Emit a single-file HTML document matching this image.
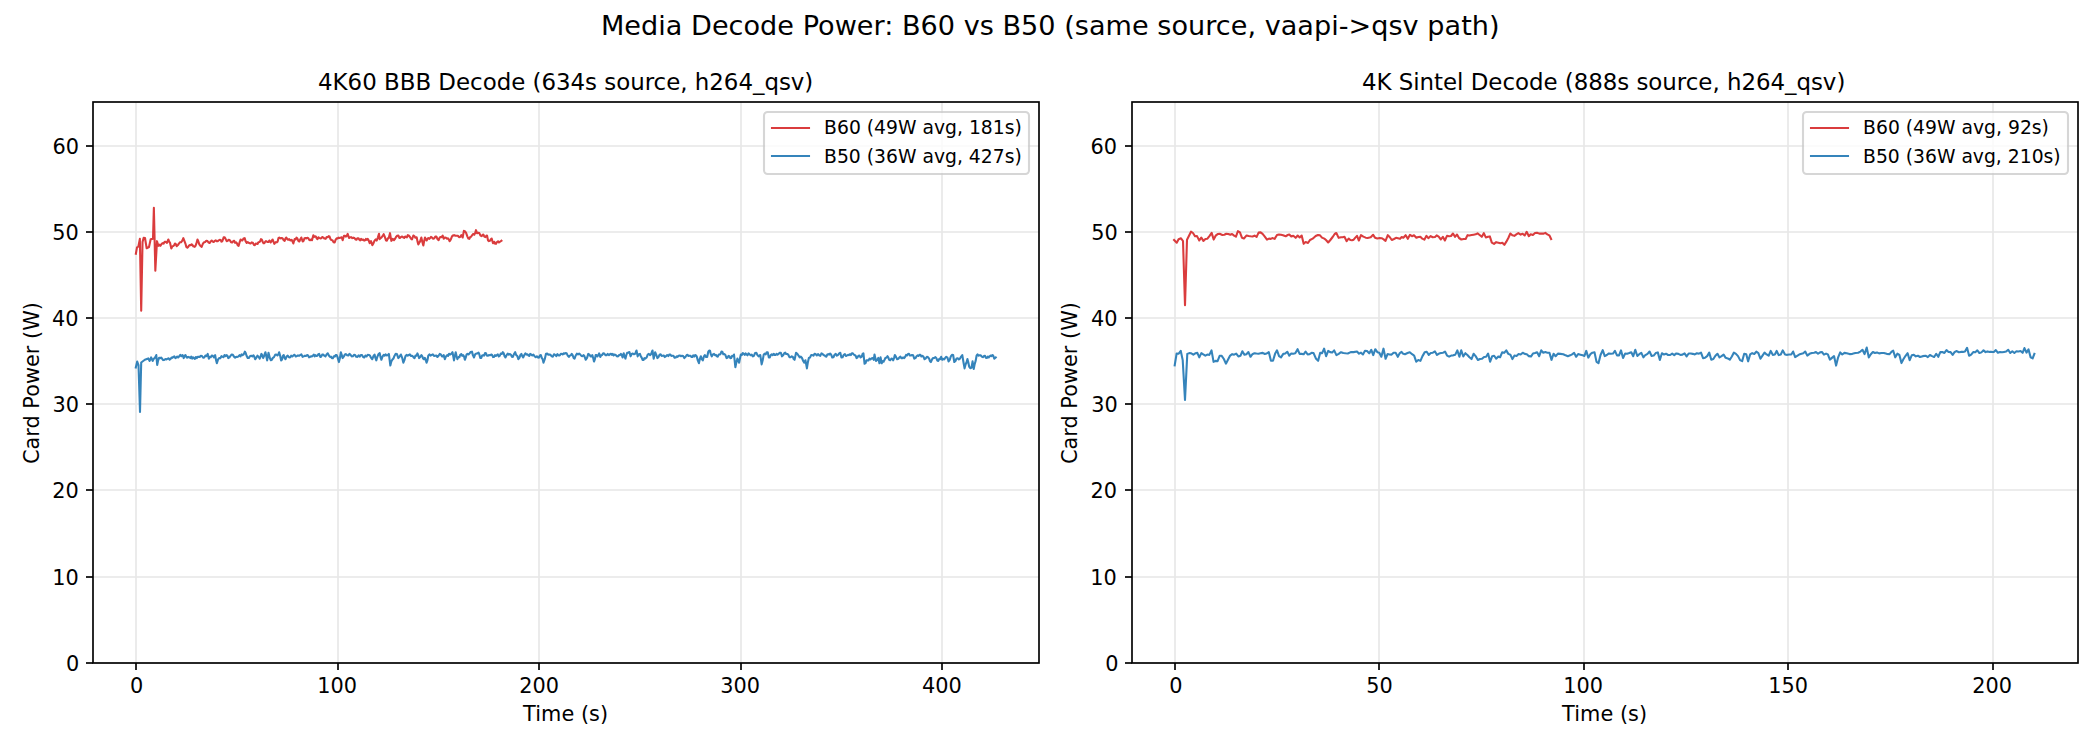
<!DOCTYPE html>
<html lang="en">
<head>
<meta charset="utf-8">
<title>Media Decode Power: B60 vs B50</title>
<style>
html,body{margin:0;padding:0;background:#fff;}
body{width:2100px;height:750px;overflow:hidden;}
svg{display:block;}
text{white-space:pre;}
</style>
</head>
<body>
<svg width="2100" height="750" viewBox="0 0 2100 750">
<rect width="2100" height="750" fill="#ffffff"/>
<g id="axes1">
<path d="M136 663V102M338 663V102M539 663V102M741 663V102M942 663V102M93 663H1039M93 577H1039M93 490H1039M93 404H1039M93 318H1039M93 232H1039M93 146H1039" fill="none" stroke="#b0b0b0" stroke-opacity="0.3" stroke-width="1.667"/>
<g fill="#000">
<rect x="135.167" y="663" width="1.667" height="7"/>
<rect x="337.167" y="663" width="1.667" height="7"/>
<rect x="538.167" y="663" width="1.667" height="7"/>
<rect x="740.167" y="663" width="1.667" height="7"/>
<rect x="941.167" y="663" width="1.667" height="7"/>
<rect x="86" y="662.167" width="7" height="1.667"/>
<rect x="86" y="576.167" width="7" height="1.667"/>
<rect x="86" y="489.167" width="7" height="1.667"/>
<rect x="86" y="403.167" width="7" height="1.667"/>
<rect x="86" y="317.167" width="7" height="1.667"/>
<rect x="86" y="231.167" width="7" height="1.667"/>
<rect x="86" y="145.167" width="7" height="1.667"/>
</g>
<clipPath id="clip1"><rect x="93.3" y="102.4" width="946" height="560.5"/></clipPath>
<polyline clip-path="url(#clip1)" points="135.867,253.667 137,247.333 138.333,246.667 139.867,238.833 141.2,310.7 142.533,242 143.667,237.75 145,238 146.667,248.25 149,247 150.667,239.333 153,238.667 153.867,207.7 155.333,270.7 157,241.167 158.333,245.833 159.333,244.703 160.333,245.827 161.333,244.333 162.444,243.174 163.556,243.659 164.667,241.833 165.833,241.868 167,242.833 168.333,239.5 169.167,241.641 170,242.667 171.333,248.5 172.333,246.358 173.333,246 174.167,245.296 175,243.5 175.833,244.171 176.667,246.167 177.667,245.313 178.667,244 179.833,242.336 181,242.333 182.167,240.902 183.333,238.167 184.667,241.667 185.5,243.812 186.333,246.917 187.333,247.651 188.333,246.667 189.167,245.375 190,245 190.833,245.207 191.667,244.25 192.5,244.974 193.333,246.333 194.667,246.833 195.5,245.791 196.333,243.667 197.467,239.5 198.4,241.541 199.333,244.333 200.5,246.007 201.667,246.833 202.833,243.755 204,242.333 205.167,242.022 206.333,240.833 207.5,241.1 208.667,242.583 209.667,243.019 210.667,241.417 211.667,240.497 212.667,241.583 213.667,242.015 214.667,240.833 215.667,240.345 216.667,241.167 217.667,241.186 218.667,240.333 219.667,239.868 220.667,240.083 221.5,241.677 222.333,241.25 223.667,237.333 224.5,237.199 225.333,238.333 226.667,241.167 227.667,240.803 228.667,239.833 229.833,240.277 231,242.167 232.167,242.475 233.333,241.083 234.222,240.786 235.111,242.883 236,242.333 236.889,243.26 237.778,245.311 238.667,245.833 239.667,242.079 240.667,239.5 241.5,240.259 242.333,240.5 243.5,238.595 244.667,238.167 245.667,241.454 246.667,242.917 247.667,242.136 248.667,242.75 250,243.417 250.833,243.339 251.667,242.417 252.833,242.764 254,244.917 254.889,245.129 255.778,243.453 256.667,243.667 257.556,243.941 258.444,242.226 259.333,242 260.167,241.469 261,239.167 261.833,239.644 262.667,241.667 263.5,243.275 264.333,243.167 265.167,241.759 266,241.083 267.333,241.917 268.333,242.079 269.333,240.5 270.667,242.5 271.667,240.635 272.667,239.5 273.5,241.941 274.333,243.833 275.5,242.168 276.667,242.333 277.556,241.642 278.444,238.179 279.333,237.5 280.5,238.348 281.667,238 282.667,238.511 283.667,240.102 284.667,240.833 285.5,238.425 286.333,237.5 287.333,239.386 288.333,239.667 289.167,239.018 290,240.167 290.833,240.44 291.667,239.833 292.5,241.282 293.333,243.5 294.667,239 295.556,239.486 296.444,237.627 297.333,238.25 298.333,240.88 299.333,241.5 300.333,239.168 301.333,237.5 302.667,241.5 303.556,240.939 304.444,238.219 305.333,238 306.333,238.432 307.333,237.75 308.333,238.18 309.333,240 310.222,240.311 311.111,239.402 312,240.25 313.333,235.333 314.167,236.801 315,236.333 315.833,236.484 316.667,238.417 317.556,239.162 318.444,237.274 319.333,237.833 320.333,238.41 321.333,238.167 322.333,237.032 323.333,237.583 324.5,238.591 325.667,238.833 326.667,237.049 327.667,237.314 328.667,236.167 329.556,236.554 330.444,239.065 331.333,240 332.444,240.316 333.556,242.136 334.667,242.5 335.667,239.637 336.667,238.333 337.556,238.577 338.444,237.576 339.333,238 340.5,237.837 341.667,237.25 342.667,240.167 344,235.75 345,235.742 346,236.583 346.833,235.764 347.667,233.833 349,238 350.167,237.289 351.333,237.167 352.333,238.148 353.333,237.667 354.5,238.061 355.667,239.5 356.5,239.641 357.333,238.167 358.333,238.168 359.333,239.667 360.222,240.314 361.111,238.908 362,239.917 363.333,239.5 364.167,240.647 365,240.333 365.889,238.956 366.778,239.823 367.667,238.833 368.667,240.343 369.667,243.167 371,241.167 372.333,245.167 373.5,243.161 374.667,240.417 375.667,239.468 376.667,240.583 377.833,237.617 379,233.833 379.667,239.167 380.5,237.997 381.333,237.667 382.5,236.184 383.667,234.167 384.833,236.913 386,240.5 386.889,240.616 387.778,238.271 388.667,238.333 390,233.167 391.333,240.833 392.667,238.833 394,240.167 395,238.897 396,237 397.167,235.732 398.333,235.5 399.333,237.917 400.167,237.972 401,236.917 402.167,236.451 403.333,237.5 404.222,237.918 405.111,236.474 406,237 406.889,237.402 407.778,235.192 408.667,235.5 410,237 411,238.759 412,239.5 413.333,235.5 414.333,236.047 415.333,237.75 416.667,237.25 417.5,241.386 418.333,244.5 419.167,242.786 420,241.667 421.333,237.5 422.333,241.875 423.333,245.5 424.167,241.058 425,237.5 425.833,239.467 426.667,240.5 427.5,238.826 428.333,238.083 429.167,238.851 430,238.25 431,236.905 432,237.583 433.167,238.807 434.333,238.333 435.333,236.555 436.333,236.5 437.5,239.169 438.667,240.167 439.5,237.882 440.333,237 441.5,237.217 442.667,235.5 443.667,238.667 444.833,237.472 446,237.833 447,238.704 448,238.333 448.833,239.479 449.667,241.167 450.833,239.361 452,236.333 453.167,235.367 454.333,235.167 455.5,235.733 456.667,235.667 457.833,235.791 459,237.167 460.167,237.024 461.333,235.167 462.667,237.5 463.867,230.833 464.933,231.299 466,232.667 467.333,236.333 468.333,238.427 469.333,238.833 470.222,237.025 471.111,236.83 472,235.333 473.167,233.994 474.333,234.667 475.167,232.956 476,230.167 477,233.25 478.167,232.715 479.333,233.083 480.5,235.533 481.667,236.167 482.5,235.023 483.333,234.5 484.333,236.648 485.333,237.167 486.167,235.971 487,235.5 488,240.333 489,241.115 490,240.833 490.833,239.268 491.667,238.5 493,243.167 494.333,241.833 495.167,243.737 496,243.833 497,242.012 498,241.25 499,242.514 500,241.75 501.467,240.667" fill="none" stroke="#d62728" stroke-opacity="0.9" stroke-width="2.083" stroke-linejoin="round" stroke-linecap="square"/>
<polyline clip-path="url(#clip1)" points="135.8,367.5 137.2,361.5 138.5,365 140,412 141.2,362.5 144.857,359.714 148.286,358.429 149.657,360.929 151.143,357.357 152.629,360.929 153.6,359.005 154.571,358 155.429,357.028 156.286,355.071 157.2,364.929 158.171,360.367 159.143,357.714 160.095,358.307 161.048,357.523 162,358.571 163.143,360.092 164.286,359.857 165.429,359.083 166.571,359.369 167.714,358.714 168.667,358.339 169.619,359.719 170.571,359 171.524,357.51 172.476,357.835 173.429,356.714 174.381,356.388 175.333,358.11 176.286,357.571 177.238,356.54 178.19,357.506 179.143,356.286 180.286,354.765 181.429,356.265 182.571,355 183.714,358.071 184.571,355.996 185.429,355.071 186.286,356.785 187.143,357.714 188.286,356.894 189.429,357.143 190.343,358.025 191.257,356.519 192.171,358.663 193.086,357.433 194,358.143 194.914,358.939 195.829,356.982 196.743,358.218 197.657,356.794 198.571,356.857 199.714,356.889 200.857,355.88 202,356 203.143,357.767 204.286,357.5 205.429,355.476 206.571,356.105 207.714,353.929 208.857,358.643 209.81,356.841 210.762,357.232 211.714,355.643 212.857,355.884 214,357.5 215.143,355.071 216,359.899 216.857,363.214 218,359.61 219.143,358 220.286,358.236 221.429,356.214 222.571,356.857 223.571,357.185 224.571,354.996 225.571,356.189 226.571,355.071 227.429,355.726 228.286,358.071 229.429,357.421 230.571,355.714 231.714,354.593 232.857,354.857 234,356.632 235.143,357.571 236.286,356.828 237.429,356.973 238.571,356.286 239.571,355.146 240.571,356.348 241.571,354.399 242.571,355.143 243.714,354.366 244.857,351.643 245.714,353.109 246.571,355.714 247.714,357.99 248.857,358.071 250,356.138 251.143,355.714 252.286,356.411 253.429,355.286 254.286,356.661 255.143,359.214 256.286,357.829 257.429,355.643 258.571,356.765 259.714,358.643 260.571,356.672 261.429,353.929 262.286,355.234 263.143,358.071 264.286,355.468 265.429,352.214 266.286,356.044 267.143,360.357 268.514,352.786 270,358.571 270.857,360.186 271.714,359.857 272.857,357.877 274,357.152 275.143,354.857 276.286,354.481 277.429,355.429 278.286,354.602 279.143,352.214 280.114,355.61 281.086,360.357 281.962,359.66 282.838,355.936 283.714,355.071 284.571,357.882 285.429,359.214 286.571,356.651 287.714,355.643 288.857,357.25 290,357.5 291.143,355.72 292.286,356.546 293.429,355.429 294.571,354.777 295.714,356.532 296.857,356 298,355.405 299.143,355.823 300.286,355 301.429,354.397 302.571,356.833 303.714,356.357 304.857,355.693 306,355.99 307.143,355.071 308.095,355.481 309.048,357.323 310,357 310.952,356.248 311.905,356.419 312.857,355.714 313.771,354.61 314.686,356.338 315.6,355.205 316.514,355.982 317.429,355.714 318.286,354.248 319.143,353.929 320.286,356.929 321.238,356.672 322.19,354.616 323.143,354.5 324.286,355.659 325.429,356.357 326.571,354.5 327.714,353.357 328.857,355.52 330,356.857 330.952,356.666 331.905,358.21 332.857,358.143 333.81,356.345 334.762,356.575 335.714,355.071 336.571,354.924 337.429,356.857 338.914,362.071 339.886,358.23 340.857,352.214 341.714,354.865 342.571,358.071 343.714,356.662 344.857,354.429 346,354.128 347.143,355.286 348.286,355.522 349.429,353.929 350.571,354.861 351.714,356.357 352.857,356.319 354,354.866 355.143,355.071 356.286,356.824 357.429,356.929 358.571,355.275 359.714,356.692 360.857,355.071 362,354.945 363.143,356.962 364.286,357.5 365.429,355.519 366.571,356.513 367.714,354.857 368.857,354.984 370,355.714 371.143,357.917 372.286,359.214 373.429,356.076 374.571,354.5 375.429,357.999 376.286,360.357 377.429,356.554 378.571,354 379.714,353.143 380.571,357.41 381.429,359.786 382.571,356.358 383.714,354.857 384.667,355.762 385.619,354.303 386.571,355.429 387.714,355.267 388.857,353.929 390.343,365.5 391.314,361.509 392.286,359.714 393.429,358.481 394.571,355.714 395.714,353.729 396.857,353.929 398.343,358.071 399.6,356.549 400.857,354.5 402.114,357.556 403.371,362.643 404.4,360.19 405.429,356.286 406.571,354.945 407.714,355.73 408.857,354.857 409.81,354.427 410.762,355.912 411.714,355.714 412.667,356.181 413.619,357.513 414.571,358.071 415.524,355.463 416.476,355.754 417.429,353.357 418.286,355.306 419.143,358.071 420.286,357.027 421.429,355.071 422.286,356.251 423.143,358.714 424,359.244 424.857,357.857 425.714,359.92 426.571,362.643 427.429,360.271 428.286,355.714 429.429,354.358 430.571,355.586 431.714,354.857 432.857,354.344 434,355.976 435.143,355.714 436.286,355.508 437.429,357 438.571,355.766 439.714,353.929 440.857,354.497 442,356.357 442.857,356.466 443.714,355.071 444.857,359.214 446,356.393 447.143,355.143 448.095,355.798 449.048,353.738 450,354.571 451.257,353.833 452.514,352.214 454,360.357 454.857,355.924 455.714,352.214 456.571,356.289 457.429,359.214 458.381,356.98 459.333,357.3 460.286,354.714 461.238,353.996 462.19,355.886 463.143,355.143 464,356.368 464.857,359.786 465.714,357.643 466.571,354.571 467.524,353.734 468.476,354.413 469.429,353.429 470.686,352.047 471.943,351.643 472.971,355.38 474,357.5 475.143,354.387 476.286,353.429 477.429,353.362 478.571,352.571 479.429,354.633 480.286,358.071 481.238,357.927 482.19,355.453 483.143,355.143 484.095,355.591 485.048,353.067 486,353.357 486.857,355.587 487.714,355.786 488.857,355.033 490,355.328 491.143,354.5 492.095,355.026 493.048,357.087 494,356.929 494.952,355.198 495.905,355.88 496.857,355 497.81,354.354 498.762,356.448 499.714,355.857 500.743,353.604 501.771,353.895 502.8,352.214 503.676,353.111 504.552,356.175 505.429,357.5 506.571,355.243 507.714,353.571 508.857,354.678 510,354 510.952,354.714 511.905,356.804 512.857,356.929 514,354.093 515.143,352.214 516.21,355.209 517.276,355.857 518.343,359.214 519.371,357.895 520.4,355.046 521.429,353.929 522.286,356.257 523.143,357.5 524.286,355.034 525.429,353.357 526.381,354.649 527.333,354.256 528.286,355.286 529.238,355.941 530.19,353.939 531.143,354.429 532.286,355.526 533.429,354.57 534.571,356.286 535.714,357.248 536.857,356.317 538,357.571 538.952,357.62 539.905,355.443 540.857,355.071 541.733,357.83 542.61,359.094 543.486,362.643 544.743,359.26 546,353.714 547.143,353.623 548.286,354.648 549.429,354.571 550.571,354.852 551.714,356.357 552.857,356.617 554,354.246 555.143,354.857 556.286,356.136 557.429,354.128 558.571,355.429 559.714,355.397 560.857,353.715 562,354 562.914,354.444 563.829,353.225 564.743,353.769 565.657,352.939 566.571,353.143 567.714,355.581 568.857,356.929 569.81,355.625 570.762,355.288 571.714,353.929 572.667,355.236 573.619,357.854 574.571,358.643 575.714,355.513 576.857,353.714 578,354.443 579.143,353.589 580.286,354.571 581.429,355.962 582.571,356.143 583.429,355.185 584.286,355.857 585.771,359.786 587.029,357.918 588.286,353.929 589.429,354.602 590.571,356.357 591.429,356.517 592.286,355.071 593.143,357.865 594,361.5 594.857,359.353 595.714,355.071 596.571,354.936 597.429,356.357 598.286,355.224 599.143,353.357 600.286,356.929 601.238,355.283 602.19,354.915 603.143,353.357 604.286,353.615 605.429,355.142 606.571,355.286 607.714,353.942 608.857,355.158 610,354.143 610.914,353.756 611.829,354.914 612.743,353.936 613.657,355.368 614.571,354.571 615.714,354.89 616.857,356.245 618,356.357 618.952,355.034 619.905,355.125 620.857,353.929 621.714,354.828 622.571,357.5 623.714,353.357 624.571,356.386 625.429,358.643 626.286,355.256 627.143,352.857 628.286,352.703 629.429,352 630.571,356.357 631.714,354.062 632.857,353.571 634,354.265 635.143,353.857 636.514,350.5 637.657,356.357 638.8,354.33 639.943,353.929 640.819,356.324 641.695,357.637 642.571,359.857 643.524,359.942 644.476,358.077 645.429,358.571 646.571,357.547 647.714,354.571 648.857,353.844 650,355.174 651.143,354 652.514,350.5 653.657,358.643 655.143,352.214 656.286,354.874 657.429,358.071 658.571,356.942 659.714,354.429 660.667,354.402 661.619,355.904 662.571,355.714 663.714,355.434 664.857,357.026 666,356.143 667.143,355.076 668.286,356.072 669.429,354.429 670.381,354.535 671.333,355.895 672.286,355.714 673.429,355.688 674.571,357.765 675.714,357.5 676.667,356.371 677.619,356.975 678.571,355.714 679.714,355.427 680.857,356.217 682,355.714 683.143,356.018 684.286,358.071 685.429,356.998 686.571,355.286 687.524,354.79 688.476,356.008 689.429,355.714 690.381,355.77 691.333,356.904 692.286,357 693.238,355.403 694.19,356.554 695.143,355.071 696,355.4 696.857,356.857 697.886,360.611 698.914,363.214 699.886,358.837 700.857,356.214 701.829,359.052 702.8,360.357 703.829,356.669 704.857,355.071 706,357.049 707.143,356.929 708.286,351.714 709.143,350.629 710,350.857 710.857,354.422 711.714,356.357 712.857,354.43 714,353.929 714.952,355.241 715.905,354.917 716.857,356.357 717.81,356.633 718.762,354.447 719.714,354.571 720.571,353.898 721.429,351.643 722.381,351.768 723.333,354.293 724.286,354 725.429,355.115 726.571,358.071 727.524,357.794 728.476,355.879 729.429,356.214 730.286,358.19 731.143,358.071 732.095,355.924 733.048,356.222 734,354.5 735.371,367.214 736.4,362.303 737.429,358.5 738.286,361.014 739.143,362.643 740,358.333 740.857,354.571 741.81,354.933 742.762,353.013 743.714,353.714 744.667,354.866 745.619,353.372 746.571,354.429 747.524,355.317 748.476,353.423 749.429,354.143 750.571,355.305 751.714,354.675 752.857,356.357 754,355.72 755.143,352.954 756.286,352.786 757.429,355.088 758.571,356.357 759.429,355.408 760.286,355.071 761.657,364.357 762.686,360.343 763.714,354.571 764.714,353.661 765.714,354.397 766.714,352.21 767.714,352.214 768.857,357.5 769.81,357.352 770.762,355.086 771.714,354.286 772.714,355.14 773.714,353.74 774.714,355.055 775.714,354.857 776.667,353.802 777.619,354.638 778.571,354 779.714,352.86 780.857,352.714 782,356.357 783.143,355.302 784.286,353.143 785.238,352.649 786.19,354.055 787.143,354 788.286,354.705 789.429,357.115 790.571,357.286 791.714,356.277 792.857,357 793.714,359.024 794.571,359.786 796.057,352.786 797.314,353.773 798.571,355.714 799.714,357.321 800.857,356.594 802,358 803.143,360.825 804.286,362.643 805.429,360.214 806.914,368.357 807.886,362.17 808.857,358 810,357.453 811.143,355.15 812.286,355.143 813.429,355.635 814.571,353.768 815.714,354.286 816.857,355.455 818,354.057 819.143,355.286 820.286,355.848 821.429,353.331 822.571,353.929 823.524,355.191 824.476,355.176 825.429,356.357 826.381,356.647 827.333,354.474 828.286,354.143 829.238,354.709 830.19,353.482 831.143,354.571 832.286,357.5 833.429,357.198 834.571,354.714 835.714,353.828 836.857,355.592 838,355 839.143,353.332 840.286,352.786 841.429,357.5 842.571,357.289 843.714,354.857 844.857,354.163 846,356.026 847.143,355.429 848.086,354.849 849.029,355.137 849.971,354.157 850.914,355.085 851.857,353.266 852.8,353.357 853.829,354.628 854.857,355.143 855.714,355.86 856.571,358.071 857.429,357.442 858.286,356 859.429,355.476 860.571,357.457 861.714,356.571 862.571,353.965 863.429,353.357 864.571,363.786 865.524,363.063 866.476,360.407 867.429,360.286 868.429,360.422 869.429,358.7 870.429,359.462 871.429,358.5 872.571,358.022 873.714,359.786 874.514,354.5 876,360.929 877.143,359.928 878.286,357.929 879.429,363.214 880.571,357.357 881.714,363.214 882.667,361.162 883.619,361.661 884.571,359.714 885.524,357.706 886.476,357.698 887.429,356.214 888.286,357.294 889.143,359.786 890.286,360.261 891.429,358.5 892.286,358.699 893.143,360.357 894,358.115 894.857,355.071 896,356.872 897.143,359.214 898.286,358.77 899.429,357.286 900.381,356.679 901.333,358.104 902.286,358.143 903.238,357.446 904.19,358.099 905.143,356.857 906.095,354.866 907.048,355.522 908,353.929 908.952,353.692 909.905,355.479 910.857,355.571 912,354.96 913.143,355.286 914.286,358.643 915.429,358.114 916.571,356.286 917.524,355.389 918.476,355.965 919.429,354.857 920.381,354.786 921.333,356.481 922.286,355.714 923.429,356.659 924.571,359.214 925.714,358.309 926.857,356.786 928,357.281 929.143,358.571 930,361.289 930.857,362.071 932,359.478 933.143,358 934.286,358.029 935.429,357.143 936.381,358.16 937.333,360.496 938.286,360.929 939.238,358.812 940.19,359.145 941.143,356.786 942.286,359.786 943.238,358.814 944.19,359.494 945.143,358 946.286,356.82 947.429,357.571 948.571,361.5 949.714,359.856 950.857,356.286 952,354.749 953.143,355 954.286,362.071 955.429,360.942 956.571,358.571 957.714,358.305 958.857,359.373 960,358.571 961.143,356.574 962.286,355.071 963.429,362.015 964.571,368.357 965.524,364.671 966.476,362.499 967.429,359.071 968.286,362.192 969.143,366.571 970.286,368.202 971.429,367.857 972.571,361.357 973.714,368.929 974.667,364.143 975.619,361.059 976.571,355.714 977.524,354.453 978.476,355.686 979.429,355.286 980.571,355.325 981.714,356.571 982.857,357.144 984,356 984.952,355.81 985.905,357.856 986.857,358.071 987.81,356.526 988.762,357.438 989.714,356.286 990.667,355.453 991.619,356.117 992.571,355 993.429,356.084 994.286,358.714 995.771,357.429" fill="none" stroke="#1f77b4" stroke-opacity="0.9" stroke-width="2.083" stroke-linejoin="round" stroke-linecap="square"/>
<rect x="93" y="102" width="946" height="561" fill="none" stroke="#000" stroke-width="1.667" stroke-linejoin="miter"/>
<rect x="764" y="112" width="265" height="62" rx="3.75" ry="3.75" fill="#fff" stroke="#ccc" stroke-width="2.083" opacity="0.8"/>
<path d="M772 128H809" stroke="#d62728" stroke-opacity="0.9" stroke-width="2.083" stroke-linecap="square" fill="none"/>
<path d="M772 156H809" stroke="#1f77b4" stroke-opacity="0.9" stroke-width="2.083" stroke-linecap="square" fill="none"/>
</g>
<g id="axes2">
<path d="M1175 663V102M1379 663V102M1584 663V102M1788 663V102M1993 663V102M1132 663H2078M1132 577H2078M1132 490H2078M1132 404H2078M1132 318H2078M1132 232H2078M1132 146H2078" fill="none" stroke="#b0b0b0" stroke-opacity="0.3" stroke-width="1.667"/>
<g fill="#000">
<rect x="1174.167" y="663" width="1.667" height="7"/>
<rect x="1378.167" y="663" width="1.667" height="7"/>
<rect x="1583.167" y="663" width="1.667" height="7"/>
<rect x="1787.167" y="663" width="1.667" height="7"/>
<rect x="1992.167" y="663" width="1.667" height="7"/>
<rect x="1125" y="662.167" width="7" height="1.667"/>
<rect x="1125" y="576.167" width="7" height="1.667"/>
<rect x="1125" y="489.167" width="7" height="1.667"/>
<rect x="1125" y="403.167" width="7" height="1.667"/>
<rect x="1125" y="317.167" width="7" height="1.667"/>
<rect x="1125" y="231.167" width="7" height="1.667"/>
<rect x="1125" y="145.167" width="7" height="1.667"/>
</g>
<clipPath id="clip2"><rect x="1132" y="102.4" width="946" height="560.5"/></clipPath>
<polyline clip-path="url(#clip2)" points="1174.067,240.067 1176.733,242.767 1178.6,239.267 1181,238.267 1183,241 1185,305.167 1187,239.667 1189,235.667 1191,231.7 1193,233 1195,236.267 1197,236.133 1199.267,240.5 1201.267,237.5 1203.4,240.9 1205.4,239 1207.4,238.733 1209.4,236.067 1211.667,232.833 1213.667,239.567 1215.667,235.667 1217.667,234.067 1219.667,233.767 1222.333,234.933 1224.333,234.733 1226.333,233.733 1228.333,233.933 1230.333,234.733 1232.067,234 1234.067,235.667 1235.933,236.667 1237.933,231.133 1239.933,232.333 1241.933,237.667 1243.933,238.467 1246.6,235.433 1248.6,235.933 1250.6,236.333 1252.6,236.533 1254.6,235.6 1256.6,236.9 1258.6,232.6 1260.6,232.4 1262.6,233.933 1264.6,236.333 1267,239.633 1269,238.567 1270.333,239.033 1272.333,238.067 1274.6,238.867 1277,235 1279,234.433 1281,234.733 1283,235.267 1285.667,236.267 1287.667,235 1289.267,234.5 1291.267,236.567 1293.267,235.7 1295.667,237.833 1297.667,235.5 1299.667,237.433 1301.667,235.5 1303.667,243.833 1305.667,242.083 1308,242.917 1310,240 1312.667,238.667 1315.667,236 1318,234.933 1320,235.333 1322,237.667 1324.333,238.667 1326,240 1328.2,242.5 1330.333,240 1332.667,237 1334.667,234 1336.333,233 1338.667,237.833 1341,237.333 1342.667,237.333 1344.467,236.833 1346.667,241.167 1348.667,238.5 1350.333,240 1352,240.25 1353.667,239.667 1355.333,237.667 1357,235.833 1358.867,240.5 1361,235.167 1363.333,236.667 1365.667,237.667 1367.667,237.917 1370.667,237.333 1373.133,234.833 1375,237.667 1377.333,238.5 1379.667,238.05 1381.667,238.2 1383.667,239.333 1385.533,240.833 1387.8,235.167 1389.667,237 1391.8,240 1394,239 1396,237.833 1398,238.333 1400,238.833 1401.667,237 1403.333,237.667 1405.667,235.167 1407.8,238.833 1410,234.833 1412,236.217 1414,235.317 1416.333,237.75 1418.333,237 1420.333,236.75 1422.333,238.667 1424.333,239.667 1426.467,235.833 1428.333,238.167 1430.667,236.083 1432.667,237.25 1435,237 1436.667,235.417 1438.667,236.667 1440.867,239.5 1442.867,236.833 1444.867,240.5 1447,235.833 1449,236.25 1451,236 1453,233.5 1455,236.833 1457,234.5 1459,238 1461.333,239.5 1463.667,239 1465.667,239 1467.533,235.167 1469.333,235.5 1471.667,235 1473.667,234.667 1475.667,234.333 1477.533,233.333 1479.667,235 1481.8,236.833 1483.8,233.167 1485.8,237.417 1488,236.667 1489.8,236.417 1491.8,242.667 1494,243.917 1496.2,242.167 1498.333,242.667 1500.333,243.167 1502.333,242.833 1504.333,244.833 1506.333,241.667 1508.333,238 1510.333,233.5 1512.333,235.333 1514.333,235.833 1516.333,234.333 1518.333,233.083 1520.667,234.583 1522.667,233.75 1524.667,235.5 1526.667,231.833 1528.867,236.167 1530.667,234.333 1532.867,235 1535,233 1537,232.75 1539.333,233.633 1541.667,233.567 1543.667,233.633 1545.333,232.917 1547.333,234.333 1549.333,235.333 1551.133,239" fill="none" stroke="#d62728" stroke-opacity="0.9" stroke-width="2.083" stroke-linejoin="round" stroke-linecap="square"/>
<polyline clip-path="url(#clip2)" points="1174.714,365.286 1176.657,353.429 1178.714,353.714 1180.771,350.929 1182.714,360.143 1185,399.871 1187.286,353.857 1189.229,353.114 1191.286,353.286 1193.343,354.571 1195.286,353.286 1197.343,352.857 1199.286,357.357 1201.343,353.143 1203.286,354.429 1205.343,355.714 1207.286,354.571 1209.343,354.857 1211.514,350.357 1213.571,361.829 1215.514,360.857 1217.571,361.143 1219.629,355.8 1221.686,355.8 1223.857,359 1225.914,363.643 1228.086,359.571 1230.143,355.571 1232.2,354.143 1234.143,354.714 1236.2,353.543 1238.371,356.486 1240.429,355.8 1242.371,351.271 1244.429,354.8 1246.371,354.2 1248.429,352.071 1250.486,356.786 1252.429,354.2 1254.486,353.171 1256.429,353.514 1258.486,353.771 1260.543,353.286 1262.714,352.857 1264.771,354.029 1266.714,353.514 1268.771,352.057 1270.943,360.714 1273,360.714 1275.057,353.857 1277,350.357 1279.057,356.143 1281,357.429 1283.286,353.857 1285.229,353.514 1287.286,351.729 1289.343,355.643 1291.286,353.429 1293.343,353.714 1295.286,353.286 1297.571,349.214 1299.629,353.857 1301.571,353.857 1303.629,354.286 1305.571,351.5 1307.629,354.371 1309.571,354.2 1311.629,352.8 1313.571,353.057 1315.857,358.429 1318.143,360.786 1320.2,352.857 1322.143,353.143 1324.086,348.643 1326.143,356.214 1328.2,350.857 1330.143,352.143 1332.2,352.571 1334.143,350.357 1336.429,355.143 1338.714,353.857 1341,352.2 1343.286,353.057 1345.571,353.286 1347.857,353.457 1350.714,352.143 1353.571,352.143 1357,351.543 1359.057,353.7 1361,352.643 1362.943,354.5 1365,350.829 1367.057,351 1369.229,353.357 1371.286,349.786 1373.229,355.071 1375.286,349.214 1377.343,352.143 1379.286,352.714 1381.343,356.786 1383.514,348.643 1385.571,358.729 1387.629,354 1389.571,354.429 1391.629,354.6 1393.571,352.714 1395.629,352.714 1397.8,356.786 1399.857,353.057 1401.571,351.943 1403.286,353.857 1405,354.286 1407.514,353.057 1409.8,352.2 1412.086,354.2 1414.143,355.571 1416.2,361.7 1418.257,360 1420.429,360.857 1422.486,356.143 1424.657,352.371 1426.714,351.771 1428.771,354.843 1430.829,353.057 1432.886,352.714 1434.943,351.429 1437,354.886 1439.057,353.514 1441.114,353.057 1443.171,352.714 1445,351.6 1447.057,355.571 1449.114,356.6 1451.171,355.571 1453.229,355.343 1455.286,354.657 1457.343,350.357 1459.4,356.786 1461.229,350.357 1463.286,356.443 1465.343,353.214 1467.4,355 1469.457,357.286 1471.514,359.071 1473.571,353.786 1475.629,356.143 1477.914,360.029 1479.971,359 1482.029,358.771 1484.086,356.943 1486.143,356.714 1488.086,353.557 1490.143,361.7 1492.2,356.143 1494.143,355.714 1496.2,358.729 1498.257,356.514 1500.086,357.257 1502.143,352.371 1504.2,352.829 1506.257,350.357 1508.314,353.857 1510.371,354.657 1512.429,359.071 1514.486,355.543 1516.543,355.943 1518.6,354.057 1520.657,354.457 1522.714,352.743 1524.771,353.857 1526.829,354.2 1528.886,356.143 1530.943,356.571 1533,353.514 1535.057,353.057 1537.114,352.2 1539.171,356.214 1541.229,350.357 1543.286,352.771 1545.343,352.114 1547.4,352.714 1549.457,352.714 1551.514,359.871 1553.571,353.786 1555.629,356.214 1557.914,353.6 1560.429,353.857 1563.286,354.2 1565.571,355.343 1567.857,356.2 1570.143,355.343 1572.086,354.429 1574.143,352.871 1576.086,356.786 1578.143,354.057 1580.429,354.657 1582.714,355.343 1584.429,355.943 1586.257,350.929 1588.314,357.586 1590.371,354.2 1592.429,352.714 1594.486,352.286 1596.543,361.857 1598.486,363.143 1600.543,355 1602.714,350.129 1604.771,356.114 1606.829,355 1608.886,353.429 1610.943,353.771 1613,353.514 1614.943,350.929 1617,355.343 1619.057,355.343 1621,350.357 1623.057,357.929 1625.114,353.6 1627.171,353.771 1629.229,353.057 1631.286,352.2 1633.229,356.214 1635.286,349.786 1637.343,355.986 1639.286,354.2 1641.343,352.829 1643.4,357.357 1645,355.343 1647.514,353.857 1649.571,351.5 1651.629,356 1653.686,355.571 1655.743,353.057 1657.8,352.371 1659.857,359.871 1661.914,353.214 1663.971,354.571 1666.029,353.714 1668.086,355 1670.143,355 1672.2,353.543 1674.257,355.071 1676.314,353.429 1678.371,353.857 1680.429,354.914 1682.486,354.657 1684.543,353.457 1686.6,356.443 1688.657,353.514 1690.714,353.514 1692.771,353.857 1694.829,354.457 1696.886,353.257 1698.943,353.657 1701,352.571 1703.057,358.229 1705.114,357.629 1707.171,356.143 1709.229,352.643 1711.286,359.686 1713.343,359 1715.4,355.8 1717.457,353.786 1719.514,357.429 1721.571,356.143 1723.629,354.686 1725.686,357.857 1727.743,358.429 1729.8,359.714 1731.857,356.486 1733.914,352.571 1735.971,353.857 1738.029,356.143 1740.086,360.143 1742.143,361.171 1744.2,353.686 1746.257,354.2 1748.086,361.357 1750.143,354.429 1752.2,353.143 1754.257,354 1756.314,351.686 1758.371,353.057 1760.429,358.729 1762.486,355.571 1764.543,352.643 1766.6,354.429 1768.657,355.714 1770.714,350.929 1772.771,354.857 1774.829,354.429 1776.657,350.929 1778.714,355.114 1780.771,354.429 1782.714,350.357 1785,354.429 1787.286,354.857 1789.229,354.429 1791.286,354.429 1793.114,351.5 1795.171,357.129 1797.571,355.571 1799.857,354.2 1803.286,353.286 1805.229,351.5 1807.286,355.643 1809.571,353.857 1811.857,353.057 1814.143,352.714 1815.971,352.114 1818.029,353.743 1820.086,352.371 1821.914,352.029 1823.971,354.571 1826.029,353.571 1827.857,354.429 1829.914,359.643 1831.971,357.857 1834.029,356.071 1836.086,365.586 1838.143,357.286 1840.2,352.414 1842.257,354.5 1844.429,352.857 1846.714,353.286 1849.571,354.114 1852.429,353.857 1855.286,353.057 1858.143,352.714 1860.429,351.571 1862.486,349.786 1864.543,354.157 1866.714,347.5 1868.771,357.357 1870.829,354.2 1872.886,352 1874.943,353 1877,352.429 1879.057,353.4 1881.571,353.057 1883.857,353.057 1886.714,353.857 1889.571,354.114 1891.629,351.571 1893.229,350.714 1895.286,357.357 1897.343,353.714 1899.4,355 1901.457,363.071 1903.514,359 1905.571,355.8 1907.629,353.214 1909.686,360.214 1911.743,355.343 1913.8,354.829 1915.857,356.371 1917.914,355.686 1919.971,357 1922.714,356.143 1925.571,355.714 1927.857,357.129 1929.914,355.029 1932.086,356.143 1934.143,357 1936.2,353.786 1938.257,356.786 1940.314,352.143 1942.371,351.971 1944.429,352.943 1946.486,350.129 1948.543,351.914 1950.6,352.143 1952.657,354.843 1954.714,351.914 1956.771,351.057 1958.829,352.257 1960.886,351.914 1962.943,351.914 1965,351.571 1967.057,347.843 1969.114,355.771 1971.171,354.657 1973.229,352.029 1975.286,352.257 1977.343,350.357 1979.4,353.057 1981.457,352.371 1983.514,350.357 1985.571,352.086 1987.629,351.4 1989.686,351.914 1991.743,351.914 1993.8,352.086 1995.857,350.129 1997.914,352.771 1999.971,352.029 2002.029,352.257 2004.086,351.914 2006.143,351.571 2008.2,349.786 2010.257,353.014 2012.314,351.271 2014.371,353.014 2016.429,351.314 2018.486,351.486 2020.543,350.971 2022.6,352.786 2024.429,348.071 2026.486,352.557 2028.543,349.443 2030.6,357.286 2032.657,358.4 2034.371,353.857" fill="none" stroke="#1f77b4" stroke-opacity="0.9" stroke-width="2.083" stroke-linejoin="round" stroke-linecap="square"/>
<rect x="1132" y="102" width="946" height="561" fill="none" stroke="#000" stroke-width="1.667" stroke-linejoin="miter"/>
<rect x="1803" y="112" width="265" height="62" rx="3.75" ry="3.75" fill="#fff" stroke="#ccc" stroke-width="2.083" opacity="0.8"/>
<path d="M1811 128H1848" stroke="#d62728" stroke-opacity="0.9" stroke-width="2.083" stroke-linecap="square" fill="none"/>
<path d="M1811 156H1848" stroke="#1f77b4" stroke-opacity="0.9" stroke-width="2.083" stroke-linecap="square" fill="none"/>
</g>
<g font-family="'DejaVu Sans', 'Liberation Sans', sans-serif" fill="#000">
<text x="136.59" y="693" font-size="20.833" text-anchor="middle">0</text>
<text x="337.185" y="693" font-size="20.833" text-anchor="middle">100</text>
<text x="539.08" y="693" font-size="20.833" text-anchor="middle">200</text>
<text x="740.155" y="693" font-size="20.833" text-anchor="middle">300</text>
<text x="941.971" y="693" font-size="20.833" text-anchor="middle">400</text>
<text x="565.61" y="721" font-size="20.833" text-anchor="middle" textLength="85" lengthAdjust="spacing">Time (s)</text>
<text x="79.237" y="671" font-size="20.833" text-anchor="end">0</text>
<text x="78.857" y="585" font-size="20.833" text-anchor="end">10</text>
<text x="78.867" y="498" font-size="20.833" text-anchor="end">20</text>
<text x="78.907" y="412" font-size="20.833" text-anchor="end">30</text>
<text x="78.517" y="326" font-size="20.833" text-anchor="end">40</text>
<text x="78.867" y="240" font-size="20.833" text-anchor="end">50</text>
<text x="79.137" y="154" font-size="20.833" text-anchor="end">60</text>
<text x="39" y="383.04" font-size="20.833" text-anchor="middle" textLength="162" lengthAdjust="spacing" transform="rotate(-90 39 383.04)">Card Power (W)</text>
<text x="565.68" y="90" font-size="22.917" text-anchor="middle" textLength="495.25" lengthAdjust="spacing">4K60 BBB Decode (634s source, h264_qsv)</text>
<text x="824.088" y="134" font-size="18.75" text-anchor="start" textLength="197.75" lengthAdjust="spacing">B60 (49W avg, 181s)</text>
<text x="824.018" y="163" font-size="18.75" text-anchor="start" textLength="197.75" lengthAdjust="spacing">B50 (36W avg, 427s)</text>
<text x="1175.769" y="693" font-size="20.833" text-anchor="middle">0</text>
<text x="1379.596" y="693" font-size="20.833" text-anchor="middle">50</text>
<text x="1583.133" y="693" font-size="20.833" text-anchor="middle">100</text>
<text x="1788.2" y="693" font-size="20.833" text-anchor="middle">150</text>
<text x="1992.017" y="693" font-size="20.833" text-anchor="middle">200</text>
<text x="1604.61" y="721" font-size="20.833" text-anchor="middle" textLength="85" lengthAdjust="spacing">Time (s)</text>
<text x="1118.407" y="671" font-size="20.833" text-anchor="end">0</text>
<text x="1116.817" y="585" font-size="20.833" text-anchor="end">10</text>
<text x="1116.987" y="498" font-size="20.833" text-anchor="end">20</text>
<text x="1117.857" y="412" font-size="20.833" text-anchor="end">30</text>
<text x="1117.467" y="326" font-size="20.833" text-anchor="end">40</text>
<text x="1117.807" y="240" font-size="20.833" text-anchor="end">50</text>
<text x="1117.087" y="154" font-size="20.833" text-anchor="end">60</text>
<text x="1077" y="383.04" font-size="20.833" text-anchor="middle" textLength="162" lengthAdjust="spacing" transform="rotate(-90 1077 383.04)">Card Power (W)</text>
<text x="1603.64" y="90" font-size="22.917" text-anchor="middle" textLength="483.375" lengthAdjust="spacing">4K Sintel Decode (888s source, h264_qsv)</text>
<text x="1863.068" y="134" font-size="18.75" text-anchor="start" textLength="185.875" lengthAdjust="spacing">B60 (49W avg, 92s)</text>
<text x="1863.038" y="163" font-size="18.75" text-anchor="start" textLength="197.625" lengthAdjust="spacing">B50 (36W avg, 210s)</text>
<text x="1050.23" y="35" font-size="27.083" text-anchor="middle" textLength="898.625" lengthAdjust="spacing">Media Decode Power: B60 vs B50 (same source, vaapi-&gt;qsv path)</text>
</g>
</svg>
</body>
</html>
